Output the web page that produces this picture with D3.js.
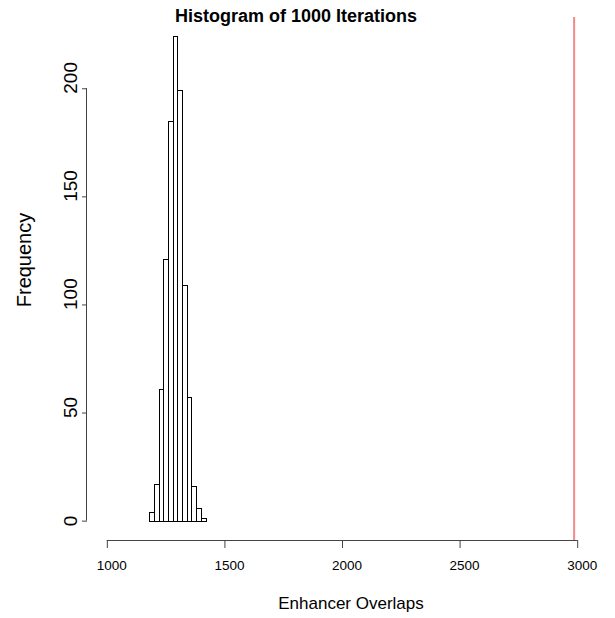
<!DOCTYPE html>
<html>
<head>
<meta charset="utf-8">
<script src="https://cdn.jsdelivr.net/npm/d3@7"></script>
<style>
  html, body { margin: 0; padding: 0; background: #fff; }
  svg { display: block; font-family: "Liberation Sans", Arial, Helvetica, sans-serif; }
</style>
</head>
<body>
<svg id="chart" width="615" height="618"></svg>
<script>
// Histogram bins (left edges, width 20) and their counts
const binStarts = [1180, 1200, 1220, 1240, 1260, 1280, 1300, 1320, 1340, 1360, 1380, 1400];
const binWidth = 20;
const counts = [4, 17, 61, 121, 185, 224, 199, 109, 57, 16, 6, 1];
// Observed value marked with a vertical line
const observed = 2987;
// Axis ticks
const xTicks = [1000, 1500, 2000, 2500, 3000];
const yTicks = [0, 50, 100, 150, 200];
const titleText = "Histogram of 1000 Iterations";
const xLabel = "Enhancer Overlaps";
const yLabel = "Frequency";

const svg = d3.select("#chart");

// Plot region with R-style 4% padding around the data ranges
const xDomain = [1000, 3000];
const yDomain = [0, d3.max(counts)];
const padX = (xDomain[1] - xDomain[0]) * 0.04;
const padY = (yDomain[1] - yDomain[0]) * 0.04;
const region = { left: 88, right: 596, top: 17, bottom: 540 };

const x = d3.scaleLinear()
  .domain([xDomain[0] - padX, xDomain[1] + padX])
  .range([region.left, region.right]);
const y = d3.scaleLinear()
  .domain([yDomain[0] - padY, yDomain[1] + padY])
  .range([region.bottom, region.top]);

// Bars
svg.append("g")
  .selectAll("rect")
  .data(binStarts.map((b, i) => ({ x0: b, x1: b + binWidth, n: counts[i] })))
  .join("rect")
  .attr("x", d => Math.round(x(d.x0)) + 0.5)
  .attr("width", d => Math.round(x(d.x1)) - Math.round(x(d.x0)))
  .attr("y", d => Math.round(y(d.n)) + 0.5)
  .attr("height", d => Math.round(y(0)) - Math.round(y(d.n)))
  .attr("fill", "#fff")
  .attr("stroke", "#000")
  .attr("stroke-width", 1);

// Vertical line for the observed overlap count
svg.append("line")
  .attr("x1", x(observed)).attr("x2", x(observed))
  .attr("y1", region.top).attr("y2", region.bottom)
  .attr("stroke", "#f28a8a")
  .attr("stroke-width", 2);

// X axis
const xAxisY = region.bottom;
const xAxis = svg.append("g").attr("transform", `translate(0,${xAxisY})`)
  .call(d3.axisBottom(x).tickValues(xTicks).tickSize(8).tickSizeOuter(0).tickFormat(d3.format("d")));
xAxis.select(".domain")
  .attr("d", `M${x(xTicks[0])},0.5H${x(xTicks[xTicks.length - 1])}`)
  .attr("stroke", "#444");
xAxis.selectAll(".tick line").attr("stroke", "#444");
xAxis.selectAll(".tick text")
  .attr("y", 0).attr("dy", 0)
  .attr("text-anchor", "start")
  .attr("transform", "translate(-10.5,30)")
  .attr("font-size", 13.5)
  .attr("font-family", "'Liberation Sans', Arial, sans-serif")
  .attr("fill", "#000");

// Y axis: labels run upward from just below each tick
const yAxisX = region.left - 1;
const yAxis = svg.append("g").attr("transform", `translate(${yAxisX},0)`)
  .call(d3.axisLeft(y).tickValues(yTicks).tickSize(5).tickSizeOuter(0));
yAxis.select(".domain")
  .attr("d", `M-0.5,${y(yTicks[0])}V${y(yTicks[yTicks.length - 1])}`)
  .attr("stroke", "#444");
yAxis.selectAll(".tick line").attr("stroke", "#444");
yAxis.selectAll(".tick text")
  .attr("x", 0).attr("dy", 0)
  .attr("text-anchor", "start")
  .attr("transform", "translate(-10,5) rotate(-90)")
  .attr("font-size", 19)
  .attr("font-family", "'Liberation Sans', Arial, sans-serif")
  .attr("fill", "#000");

// Title and axis labels
svg.append("text")
  .attr("x", 296).attr("y", 22)
  .attr("text-anchor", "middle")
  .attr("font-size", 18)
  .attr("font-weight", "bold")
  .text(titleText);

svg.append("text")
  .attr("x", 351).attr("y", 609)
  .attr("text-anchor", "middle")
  .attr("font-size", 17)
  .text(xLabel);

svg.append("text")
  .attr("transform", "translate(31,260) rotate(-90)")
  .attr("text-anchor", "middle")
  .attr("font-size", 20)
  .text(yLabel);
</script>
</body>
</html>
